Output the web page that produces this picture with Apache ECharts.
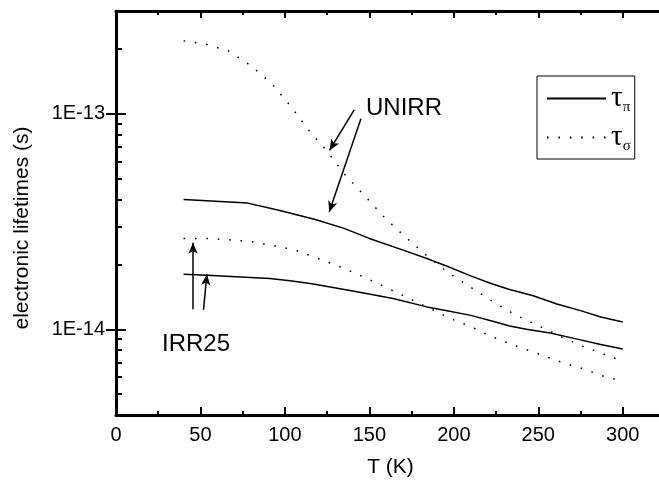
<!DOCTYPE html>
<html>
<head>
<meta charset="utf-8">
<script src="https://cdn.jsdelivr.net/npm/echarts@6/dist/echarts.min.js"></script>
<style>html,body{margin:0;padding:0;background:#fff}#c{width:659px;height:491px}</style>
</head>
<body>
<div id="c"></div>
<script>
// ---- data ----
var unirrPiT   = [40, 78, 97, 118, 135, 150, 170, 184, 196, 210, 222, 233, 247, 261, 275, 287, 300];
var unirrPiTau = [4.0e-14, 3.85e-14, 3.56e-14, 3.23e-14, 2.94e-14, 2.64e-14, 2.33e-14, 2.13e-14, 1.96e-14, 1.77e-14, 1.63e-14, 1.53e-14, 1.43e-14, 1.31e-14, 1.22e-14, 1.14e-14, 1.08e-14];

var irrPiT   = [40, 54, 91, 103, 115, 131, 145, 164, 184, 196, 210, 223, 233, 243, 257, 273, 287, 300];
var irrPiTau = [1.80e-14, 1.78e-14, 1.72e-14, 1.68e-14, 1.63e-14, 1.55e-14, 1.48e-14, 1.39e-14, 1.27e-14, 1.22e-14, 1.16e-14, 1.09e-14, 1.035e-14, 1.0e-14, 9.6e-15, 9.0e-15, 8.5e-15, 8.1e-15];

var unirrSigT   = [40, 53, 67, 80, 93, 104, 114, 125, 135, 147, 159, 172, 185, 198, 212, 224, 237, 251, 264, 277, 290, 300];
var unirrSigTau = [2.18e-13, 2.11e-13, 1.95e-13, 1.67e-13, 1.36e-13, 1.07e-13, 8.4e-14, 6.7e-14, 5.27e-14, 4.18e-14, 3.30e-14, 2.65e-14, 2.16e-14, 1.80e-14, 1.53e-14, 1.33e-14, 1.16e-14, 1.03e-14, 9.2e-15, 8.3e-15, 7.6e-15, 7.1e-15];

var irrSigT   = [40, 53, 67, 80, 93, 106, 119, 132, 145, 158, 171, 184, 197, 211, 223, 236, 250, 263, 276, 289, 300];
var irrSigTau = [2.64e-14, 2.64e-14, 2.60e-14, 2.55e-14, 2.45e-14, 2.33e-14, 2.14e-14, 1.96e-14, 1.77e-14, 1.59e-14, 1.42e-14, 1.27e-14, 1.13e-14, 1.02e-14, 9.2e-15, 8.4e-15, 7.7e-15, 7.06e-15, 6.57e-15, 6.04e-15, 5.75e-15];

var xMajorTicks = [0, 50, 100, 150, 200, 250, 300];
var xMinorTicks = [25, 75, 125, 175, 225, 275];
var yMajorTicks = [1e-14, 1e-13];
var yMinorTicks = [5e-15, 6e-15, 7e-15, 8e-15, 9e-15, 2e-14, 3e-14, 4e-14, 5e-14, 6e-14, 7e-14, 8e-14, 9e-14, 2e-13];
var yMin = 4e-15, yMax = 3e-13;
var xMin = 0, xMax = 325;

// annotation arrows [fromT, fromTau, toT, toTau]
var unirrArrows = [[141, 1.044e-13, 126.4, 6.76e-14], [145, 9.48e-14, 126.2, 3.50e-14]];
var irrArrows   = [[45.6, 1.24e-14, 45.6, 2.52e-14], [51.8, 1.23e-14, 53.8, 1.80e-14]];

// ---- build ----
function pairs(xs, ys) { return xs.map(function (x, i) { return [x, ys[i]]; }); }
var FONT = '"Liberation Sans", Arial, sans-serif';
var log10 = function (v) { return Math.log(v) / Math.LN10; };

function auxY(pos, vals, len) {
  return {
    type: 'value', position: pos, min: log10(yMin), max: log10(yMax),
    axisLine: { show: false }, splitLine: { show: false }, axisLabel: { show: false },
    axisTick: { show: true, inside: true, length: len, lineStyle: { color: '#000', width: 2 },
      customValues: vals.map(log10) }
  };
}
function auxX(pos, vals, len, showLine) {
  return {
    type: 'value', position: pos, min: xMin, max: xMax,
    axisLine: { show: showLine, onZero: false, lineStyle: { color: '#000', width: 3 } },
    splitLine: { show: false }, axisLabel: { show: false },
    axisTick: { show: true, inside: true, length: len, lineStyle: { color: '#000', width: 2 }, customValues: vals }
  };
}

var arrowData = unirrArrows.concat(irrArrows).map(function (a) {
  return [{ coord: [a[0], a[1]] }, { coord: [a[2], a[3]] }];
});

var solid = { color: '#000', width: 1.5 };
var dotted = { color: '#000', width: 1.5, type: [1.6, 9.8] };

var chart = echarts.init(document.getElementById('c'), null, { renderer: 'canvas' });
chart.setOption({
  animation: false,
  backgroundColor: '#fff',
  grid: { left: 116, top: 11, right: -6, bottom: 76, containLabel: false, outerBoundsMode: 'none' },
  xAxis: [
    {
      type: 'value', position: 'bottom', min: xMin, max: xMax,
      name: 'T (K)', nameLocation: 'middle', nameGap: 42,
      nameTextStyle: { fontFamily: FONT, fontSize: 21, color: '#000' },
      axisLine: { show: true, onZero: false, lineStyle: { color: '#000', width: 3 } },
      splitLine: { show: false },
      axisTick: { show: true, inside: true, length: 8, lineStyle: { color: '#000', width: 2 }, customValues: xMajorTicks },
      axisLabel: { show: true, margin: 10, fontFamily: FONT, fontSize: 20, color: '#000', customValues: xMajorTicks }
    },
    auxX('bottom', xMinorTicks, 4, false),
    auxX('top', xMajorTicks, 7, true),
    auxX('top', xMinorTicks, 4, false)
  ],
  yAxis: [
    {
      type: 'log', logBase: 10, position: 'left', min: yMin, max: yMax,
      name: 'electronic lifetimes (s)', nameLocation: 'middle', nameGap: 83, nameRotate: 90,
      nameTextStyle: { fontFamily: FONT, fontSize: 21, color: '#000', padding: [0, 30, 0, 0] },
      axisLine: { show: true, lineStyle: { color: '#000', width: 3 } },
      splitLine: { show: false },
      axisTick: { show: false },
      axisLabel: {
        show: true, margin: 11, fontFamily: FONT, fontSize: 20, color: '#000',
        showMinLabel: true, showMaxLabel: true,
        formatter: function (v) {
          var e = log10(v);
          if (Math.abs(e - Math.round(e)) < 1e-6) return '1E' + Math.round(e);
          return '';
        }
      }
    },
    auxY('left', yMajorTicks, 10),
    auxY('left', yMinorTicks, 6),
    auxY('right', yMajorTicks, 10),
    auxY('right', yMinorTicks, 6)
  ],
  legend: {
    orient: 'vertical', left: 537, top: 76,
    padding: [8, 4, 5, 9], itemGap: 8, itemWidth: 59, itemHeight: 14,
    borderColor: '#000', borderWidth: 1, backgroundColor: '#fff',
    itemStyle: { opacity: 0 },
    data: ['τπ', 'τσ'],
    formatter: function (n) { return '{t|τ}{s|' + n.slice(1) + '}'; },
    textStyle: {
      color: '#000',
      rich: {
        t: { fontFamily: '"Liberation Serif", serif', fontSize: 29, color: '#000' },
        s: { fontFamily: '"Liberation Serif", serif', fontSize: 15, color: '#000', padding: [18, 0, 0, 0] }
      }
    }
  },
  graphic: [
    { type: 'text', left: 366, top: 96, silent: true,
      style: { text: 'UNIRR', font: '24px "Liberation Sans", Arial, sans-serif', fill: '#000' } },
    { type: 'text', left: 162, top: 332, silent: true,
      style: { text: 'IRR25', font: '24px "Liberation Sans", Arial, sans-serif', fill: '#000' } }
  ],
  series: [
    { name: 'τπ', type: 'line', data: pairs(unirrPiT, unirrPiTau), showSymbol: false, symbol: 'none', lineStyle: solid, itemStyle: { color: '#000' }, silent: true },
    { name: 'τπ', type: 'line', data: pairs(irrPiT, irrPiTau), showSymbol: false, symbol: 'none', lineStyle: solid, itemStyle: { color: '#000' }, silent: true },
    { name: 'τσ', type: 'line', data: pairs(unirrSigT, unirrSigTau), showSymbol: false, symbol: 'none', lineStyle: dotted, itemStyle: { color: '#000' }, silent: true },
    { name: 'τσ', type: 'line', data: pairs(irrSigT, irrSigTau), showSymbol: false, symbol: 'none', lineStyle: dotted, itemStyle: { color: '#000' }, silent: true },
    {
      name: 'annotations', type: 'line', data: [], silent: true,
      markLine: {
        silent: true, animation: false, symbol: ['none', 'arrow'], symbolSize: [7, 11],
        label: { show: false }, emphasis: { disabled: true },
        lineStyle: { color: '#000', width: 1.5, type: 'solid' },
        data: arrowData
      }
    }
  ]
});
</script>
</body>
</html>
